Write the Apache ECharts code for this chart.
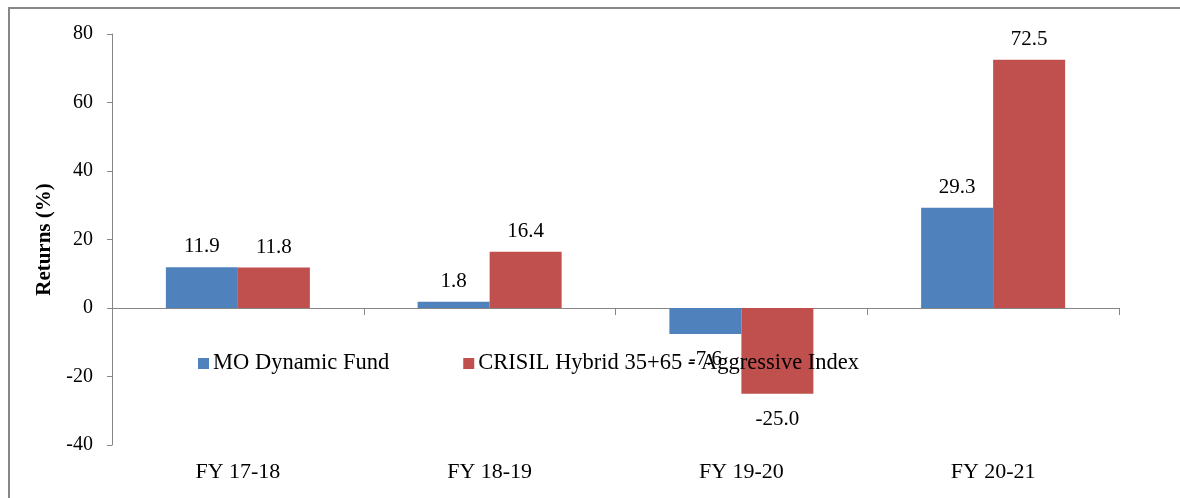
<!DOCTYPE html>
<html>
<head>
<meta charset="utf-8">
<script src="https://cdn.jsdelivr.net/npm/echarts@6/dist/echarts.min.js"></script>
<style>
  html, body { margin: 0; padding: 0; background: #fff; }
  #chart { width: 1180px; height: 498px; }
</style>
</head>
<body>
<div id="chart"></div>
<script>
// data
var categories = ['FY 17-18', 'FY 18-19', 'FY 19-20', 'FY 20-21'];
var fundName = 'MO Dynamic Fund';
var indexName = 'CRISIL Hybrid 35+65 - Aggressive Index';
var fundReturns = [11.9, 1.8, -7.6, 29.3];
var indexReturns = [11.8, 16.4, -25.0, 72.5];

var serif = '"Liberation Serif", "Times New Roman", serif';

// negative bars get their value under the bar, like the original
function withLabels(values) {
    return values.map(function (v) {
        return {
            value: v,
            label: v < 0 ? { position: 'bottom', distance: 15 } : { position: 'top', distance: 10 }
        };
    });
}

var barLabel = {
    show: true,
    color: '#000',
    fontFamily: serif,
    fontSize: 21,
    formatter: function (p) { return p.value.toFixed(1); }
};

var chart = echarts.init(document.getElementById('chart'));
var option = {
    animation: false,
    backgroundColor: '#fff',
    graphic: [{
        type: 'rect',
        shape: { x: 9, y: 8, width: 1300, height: 600 },
        style: { fill: 'none', stroke: '#878787', lineWidth: 2 },
        silent: true
    }],
    legend: {
        data: [fundName, indexName],
        left: 198,
        top: 352,
        padding: 0,
        itemWidth: 11,
        itemHeight: 11,
        itemGap: 74,
        icon: 'rect',
        textStyle: { fontFamily: serif, fontSize: 22.5, color: '#000', padding: [0, 0, 0, -1] }
    },
    grid: { left: 112, top: 34, right: 61, bottom: 53 },
    xAxis: [{
        type: 'category',
        data: categories,
        position: 'bottom',
        axisLine: { onZero: true, lineStyle: { color: '#868686', width: 1 } },
        axisTick: { show: true, length: 7, lineStyle: { color: '#868686' } },
        axisLabel: { show: false },
        splitLine: { show: false }
    }, {
        type: 'category',
        data: categories,
        position: 'bottom',
        axisLine: { show: false, onZero: false },
        axisTick: { show: false },
        axisLabel: { margin: 16, color: '#000', fontFamily: serif, fontSize: 22 },
        splitLine: { show: false }
    }],
    yAxis: {
        type: 'value',
        min: -40,
        max: 80,
        interval: 20,
        name: 'Returns (%)',
        nameLocation: 'middle',
        nameGap: 54,
        nameTextStyle: { fontFamily: serif, fontSize: 21, fontWeight: 'bold', color: '#000' },
        axisLine: { show: true, lineStyle: { color: '#868686', width: 1 } },
        axisTick: { show: true, length: 5, lineStyle: { color: '#868686' } },
        axisLabel: { margin: 19, color: '#000', fontFamily: serif, fontSize: 20 },
        splitLine: { show: false }
    },
    series: [{
        name: fundName,
        type: 'bar',
        xAxisIndex: 0,
        data: withLabels(fundReturns),
        barWidth: 72,
        barGap: '0%',
        itemStyle: { color: '#4F81BD' },
        label: barLabel
    }, {
        name: indexName,
        type: 'bar',
        xAxisIndex: 0,
        data: withLabels(indexReturns),
        barWidth: 72,
        barGap: '0%',
        itemStyle: { color: '#C0504D' },
        label: barLabel
    }]
};
chart.setOption(option);
</script>
</body>
</html>
